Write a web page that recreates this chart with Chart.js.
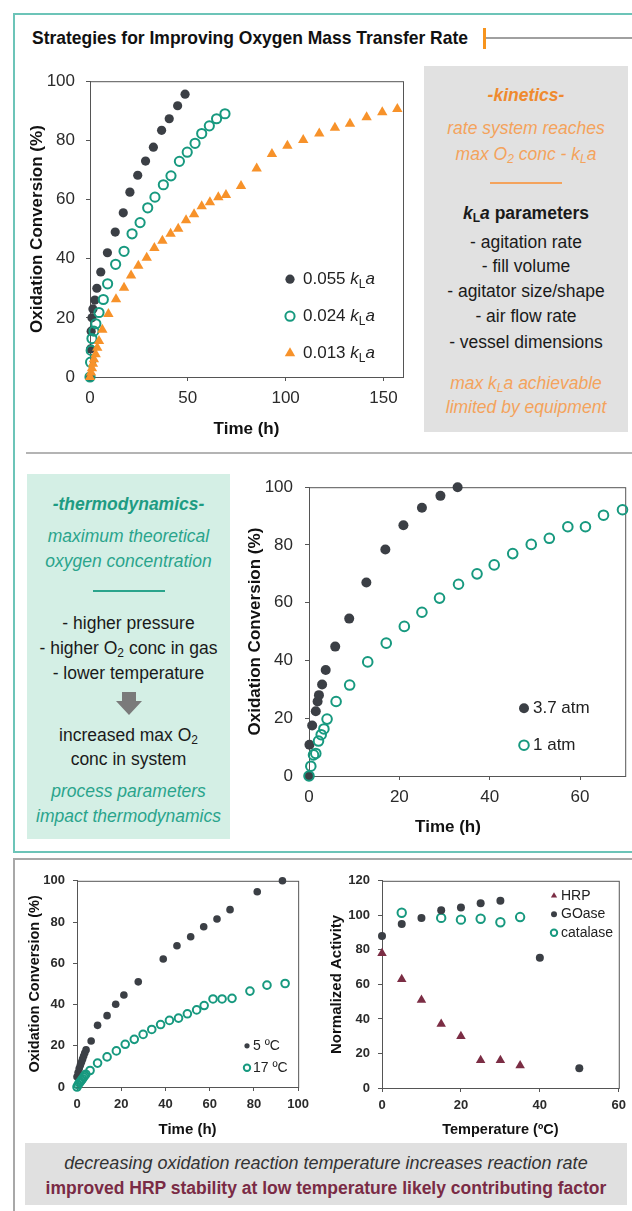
<!DOCTYPE html>
<html>
<head>
<meta charset="utf-8">
<script src="https://cdn.jsdelivr.net/npm/chart.js@4.4.1/dist/chart.umd.min.js"></script>
<style>
  body { margin: 0; width: 632px; height: 1211px; position: relative; overflow: hidden; background: #fff;
         font-family: 'Liberation Sans', Arial, sans-serif; }
  .abs { position: absolute; }
  .ln { position: absolute; left: 0; right: 0; text-align: center; height: 24px; line-height: 24px;
        font-size: 17.5px; white-space: nowrap; color: #1a1a1a; }
  .ln sub { font-size: 12px; vertical-align: -3px; line-height: 0; }
  .chartBox { position: absolute; }
</style>
</head>
<body>

<!-- frames -->
<div class="abs" style="left:13px;top:13px;width:640px;height:836px;border:2px solid #6cc4b8;border-right:none;"></div>
<div class="abs" style="left:13px;top:858px;width:640px;height:400px;border-top:2px solid #a8a8a8;border-left:2px solid #a8a8a8;"></div>

<div class="abs" style="left:32px;top:26px;height:24px;line-height:24px;white-space:nowrap;">
  <span id="mainTitle" style="display:inline-block;font-family:'Liberation Sans Narrow','Liberation Sans',sans-serif;font-weight:bold;font-size:19px;color:#111;transform-origin:left center;">Strategies for Improving Oxygen Mass Transfer Rate</span>
</div>
<div class="abs" style="left:483px;top:28px;width:3px;height:21px;background:#f7941d;"></div>
<div class="abs" style="left:486px;top:37px;width:150px;height:2px;background:#a0a0a0;"></div>
<div class="abs" style="left:26px;top:452px;width:610px;height:2px;background:#b4b4b4;"></div>

<!-- kinetics panel -->
<div class="abs" style="left:424px;top:66px;width:204px;height:366px;background:#e1e1e1;">
  <div class="ln" style="top:17px;font-weight:bold;font-style:italic;color:#ef8a2f;">-kinetics-</div>
  <div class="ln" style="top:50px;font-style:italic;color:#f4a35c;">rate system reaches</div>
  <div class="ln" style="top:76px;font-style:italic;color:#f4a35c;">max O<sub>2</sub> conc - k<sub>L</sub>a</div>
  <div class="abs" style="left:66px;top:116px;width:72px;height:1.5px;background:#f4a35c;"></div>
  <div class="ln" style="top:135px;font-weight:bold;"><i>k</i><sub>L</sub><i>a</i> parameters</div>
  <div class="ln" style="top:164px;">- agitation rate</div>
  <div class="ln" style="top:188px;">- fill volume</div>
  <div class="ln" style="top:213px;">- agitator size/shape</div>
  <div class="ln" style="top:238px;">- air flow rate</div>
  <div class="ln" style="top:264px;">- vessel dimensions</div>
  <div class="ln" style="top:305px;font-style:italic;color:#f4a35c;">max k<sub>L</sub>a achievable</div>
  <div class="ln" style="top:329px;font-style:italic;color:#f4a35c;">limited by equipment</div>
</div>

<!-- thermodynamics panel -->
<div class="abs" style="left:27px;top:474px;width:203px;height:365px;background:#d4efe5;">
  <div class="ln" style="top:18px;font-weight:bold;font-style:italic;color:#1e9c83;">-thermodynamics-</div>
  <div class="ln" style="top:50px;font-style:italic;color:#2aa48c;">maximum theoretical</div>
  <div class="ln" style="top:75px;font-style:italic;color:#2aa48c;">oxygen concentration</div>
  <div class="abs" style="left:66px;top:116px;width:72px;height:1.5px;background:#2aa48c;"></div>
  <div class="ln" style="top:137px;">- higher pressure</div>
  <div class="ln" style="top:162px;">- higher O<sub>2</sub> conc in gas</div>
  <div class="ln" style="top:187px;">- lower temperature</div>
  <svg class="abs" style="left:87px;top:218px;" width="30" height="24">
    <polygon points="8,0 22,0 22,9 28,9 15,23 2,9 8,9" fill="#7a7a7a"/>
  </svg>
  <div class="ln" style="top:249px;">increased max O<sub>2</sub></div>
  <div class="ln" style="top:273px;">conc in system</div>
  <div class="ln" style="top:305px;font-style:italic;color:#2aa48c;">process parameters</div>
  <div class="ln" style="top:330px;font-style:italic;color:#2aa48c;">impact thermodynamics</div>
</div>

<!-- bottom note -->
<div class="abs" style="left:25px;top:1143px;width:602px;height:62px;background:#e0e0e0;">
  <div class="ln" style="top:8px;font-size:18px;font-style:italic;color:#333;">decreasing oxidation reaction temperature increases reaction rate</div>
  <div class="ln" style="top:33px;font-size:17.5px;font-weight:bold;color:#7a2b45;">improved HRP stability at low temperature likely contributing factor</div>
</div>

<div class="chartBox" style="left:20px;top:60px;width:395px;height:385px;"><canvas id="kinChart"></canvas></div>
<div class="chartBox" style="left:245px;top:465px;width:387px;height:375px;"><canvas id="pressChart"></canvas></div>
<div class="abs" style="left:398px;top:815px;width:100px;text-align:center;font-weight:bold;font-size:17px;color:#111;line-height:24px;">Time (h)</div>
<div class="chartBox" style="left:20px;top:865px;width:295px;height:275px;"><canvas id="tempChart"></canvas></div>
<div class="chartBox" style="left:325px;top:865px;width:307px;height:275px;"><canvas id="stabChart"></canvas></div>

<script>
// ---- data: kLa comparison (top chart) ----
const kinLabels = ['0.055', '0.024', '0.013'];
const kinTimeFast = [0, 0.3, 0.6, 1, 1.5, 2.5, 3.5, 5.5, 8.9, 12.9, 17, 20.4, 24.4, 28.4, 32.4, 36.6, 40.5, 44.8, 48.6];
const kinConvFast = [0, 9.5, 15.5, 20, 23, 26, 30, 35.5, 42, 49, 55.5, 62.5, 68.2, 73, 77.7, 83.4, 87.3, 91.7, 95.6];
const kinTimeMid = [0, 0.3, 0.6, 1, 2, 3, 4.6, 6.8, 9, 13.1, 17.4, 21.5, 25.6, 29.5, 33.2, 37.5, 41.4, 45.7, 49.7, 53.7, 57.1, 61, 64.7, 69];
const kinConvMid = [0, 5, 9, 13, 15.5, 18, 21.8, 26.2, 31.5, 38.1, 42.5, 48.4, 52.2, 57.2, 60.8, 65, 68, 72.9, 76, 79, 82.3, 84.9, 87.3, 89];
const kinTimeSlow = [0, 0.5, 1, 1.5, 2, 2.9, 3.7, 4.6, 6.3, 9.4, 13.3, 17.4, 21, 24.7, 29, 32.9, 37, 41.2, 45.1, 49.1, 53.2, 57.1, 61.3, 65.6, 69.5, 77.2, 85.2, 93, 100.9, 109, 117.2, 125.2, 132.9, 141.4, 149.4, 157.1];
const kinConvSlow = [0, 1.5, 3, 4.5, 6, 7.7, 9.9, 12.2, 16, 21.3, 26.3, 30.2, 34.3, 37.6, 40.3, 43.6, 46.1, 48.4, 50.1, 53, 55, 57.7, 59.1, 60.8, 61.5, 64.6, 70.5, 75.4, 78.2, 80.1, 82.3, 84.3, 85.6, 87.8, 89.5, 90.6];
const kinXTicks = [0, 50, 100, 150];

// ---- data: pressure comparison (middle chart) ----
const pressLabels = ['3.7 atm', '1 atm'];
const pressTimeHigh = [0, 0.1, 0.7, 1.5, 1.9, 2.2, 2.9, 3.7, 5.8, 8.9, 12.7, 16.9, 20.9, 25, 29.1, 32.9];
const pressConvHigh = [0, 10.8, 17.5, 22.4, 25.8, 28, 31.7, 36.7, 44.8, 54.5, 67, 78.4, 86.8, 92.9, 97, 100];
const pressTimeLow = [0, 0.4, 1, 1.5, 2.1, 2.7, 3.3, 4, 6, 9, 13, 17.1, 21.1, 25, 28.9, 33.1, 37.2, 41, 45.1, 49.2, 53.2, 57.3, 61.2, 65.2, 69.4];
const pressConvLow = [0, 3.4, 7.3, 7.8, 12.1, 14.3, 16.3, 19.7, 25.8, 31.5, 39.5, 46, 51.8, 56.7, 61.6, 66.4, 70, 73.1, 77, 80.2, 82.3, 86.3, 86.3, 90.3, 92.2];
const pressXTicks = [0, 20, 40, 60];

// ---- data: reaction temperature (bottom left) ----
const tempLabels = ['5 ºC', '17 ºC'];
const tempTimeCold = [0, 0.5, 1, 1.5, 2, 2.5, 3, 3.5, 4.1, 6.4, 9.3, 13.6, 17.5, 21.2, 27.7, 39, 45.2, 51.4, 57.3, 63.3, 69.2, 81.5, 92.9];
const tempConvCold = [5, 7, 9, 10.5, 12, 13.5, 15, 16.5, 18, 22.3, 29.9, 34.6, 40.1, 44.6, 51, 62.1, 68.5, 72.9, 77.7, 81.5, 86, 94.7, 100];
const tempTimeWarm = [0, 0.5, 1, 1.5, 2, 2.5, 3, 3.5, 4, 5.9, 9.3, 13.6, 17.8, 21.8, 25.9, 29.9, 33.8, 37.8, 41.8, 45.9, 49.9, 54.1, 57.5, 61.5, 65.6, 70.1, 78.2, 85.9, 94.1];
const tempConvWarm = [0, 1, 2, 2.5, 3.3, 4, 4.8, 5.5, 6.2, 8, 11.6, 14.6, 17.5, 20.7, 23.1, 25.5, 27.9, 30.3, 32.3, 33.4, 35.5, 37.4, 39.5, 42.7, 42.7, 43, 46.5, 49.4, 50.2];
const timeXTicks = [0, 20, 40, 60, 80, 100];

// ---- data: enzyme stability (bottom right) ----
const stabLabels = ['HRP', 'GOase', 'catalase'];
const hrpTemp = [0, 5, 10, 15, 20, 25, 30, 35];
const hrpAct = [78, 63, 51, 37, 30, 16, 16, 13];
const goaseTemp = [0, 5, 10, 15, 20, 25, 30, 40, 50];
const goaseAct = [88, 95, 98.5, 103, 104.5, 107, 108.5, 75.5, 11.5];
const catTemp = [5, 15, 20, 25, 30, 35];
const catAct = [101.5, 98.5, 97.5, 98, 96, 99];
const stabXTicks = [0, 20, 40, 60];
const stabYTicks = [0, 20, 40, 60, 80, 100, 120];
const convYTicks = [0, 20, 40, 60, 80, 100];

const DARK = '#3b3f45', TEAL = '#17997f', ORANGE = '#f7922a', MAROON = '#7b2d44';
Chart.defaults.font.family = "'Liberation Sans', Arial, sans-serif";
Chart.defaults.color = '#2b2b2b';

const pts = (xs, ys) => xs.map((x, i) => ({ x: x, y: ys[i] }));

const framePlugin = {
  id: 'frame',
  beforeDatasetsDraw(chart) {
    const { ctx, chartArea: a } = chart;
    ctx.save();
    ctx.strokeStyle = '#555';
    ctx.lineWidth = 1;
    ctx.strokeRect(a.left + 0.5, a.top + 0.5, a.right - a.left, a.bottom - a.top);
    ctx.restore();
  }
};

const inlineLegend = {
  id: 'inlineLegend',
  afterDatasetsDraw(chart, args, o) {
    const { ctx, chartArea: a } = chart;
    ctx.save();
    chart.data.datasets.forEach((ds, i) => {
      const x = a.left + o.x, y = a.top + o.y + i * o.step;
      ctx.fillStyle = ds.backgroundColor;
      ctx.strokeStyle = ds.borderColor;
      ctx.lineWidth = ds.borderWidth;
      Chart.helpers.drawPoint(ctx, { pointStyle: ds.pointStyle, radius: o.radius[i], borderWidth: ds.borderWidth, rotation: 0 }, x, y);
      ctx.fillStyle = o.color;
      ctx.textBaseline = 'middle';
      ctx.textAlign = 'left';
      ctx.font = o.size + "px 'Liberation Sans'";
      let tx = x + o.textDx;
      ctx.fillText(ds.label, tx, y);
      if (o.kla) {
        tx += ctx.measureText(ds.label + ' ').width;
        ctx.font = 'italic ' + o.size + "px 'Liberation Sans'";
        ctx.fillText('k', tx, y);
        tx += ctx.measureText('k').width;
        ctx.font = Math.round(o.size * 0.68) + "px 'Liberation Sans'";
        ctx.fillText('L', tx, y + 5);
        tx += ctx.measureText('L').width;
        ctx.font = 'italic ' + o.size + "px 'Liberation Sans'";
        ctx.fillText('a', tx, y);
      }
    });
    ctx.restore();
  }
};

function axis(c) {
  const horizontal = c.pos === 'x';
  const s = {
    type: 'linear', min: c.min, max: c.max,
    afterBuildTicks: sc => { sc.ticks = c.ticks.map(v => ({ value: v })); },
    afterFit: sc => { if (horizontal) sc.height = c.size; else sc.width = c.size; },
    border: { color: '#555', width: 1 },
    grid: { drawOnChartArea: false, tickLength: 4, color: '#555' },
    ticks: { font: { size: c.tickSize, weight: c.tickWeight || 'normal' }, color: '#2b2b2b', padding: c.tickPad },
    title: { display: !!c.title, text: c.title || '', color: '#111',
             font: { size: c.titleSize, weight: 'bold' },
             padding: horizontal ? { top: 0, bottom: c.titlePad } : { top: c.titlePad, bottom: 0 } }
  };
  return s;
}

function makeChart(id, datasets, x, y, pad, legend) {
  new Chart(document.getElementById(id), {
    type: 'scatter',
    data: { datasets: datasets },
    options: {
      responsive: true, maintainAspectRatio: false, animation: false,
      layout: { padding: { top: pad.top, right: pad.right, left: 0, bottom: 0 } },
      scales: { x: axis(Object.assign({ pos: 'x' }, x)), y: axis(Object.assign({ pos: 'y' }, y)) },
      plugins: { legend: { display: false }, tooltip: { enabled: false }, inlineLegend: legend }
    },
    plugins: [framePlugin, inlineLegend]
  });
}

function dot(label, data, color, r, order) {
  return { label, data, pointStyle: 'circle', pointRadius: r, backgroundColor: color, borderColor: color, borderWidth: 0, clip: false, order };
}
function ring(label, data, color, r, w, order) {
  return { label, data, pointStyle: 'circle', pointRadius: r, backgroundColor: 'rgba(255,255,255,0)', borderColor: color, borderWidth: w, clip: false, order };
}
function tri(label, data, color, r, order) {
  return { label, data, pointStyle: 'triangle', pointRadius: r, backgroundColor: color, borderColor: color, borderWidth: 0, clip: false, order };
}

// top: kLa
makeChart('kinChart', [
  dot(kinLabels[0], pts(kinTimeFast, kinConvFast), DARK, 4.6, 2),
  ring(kinLabels[1], pts(kinTimeMid, kinConvMid), TEAL, 4.6, 2, 1),
  tri(kinLabels[2], pts(kinTimeSlow, kinConvSlow), ORANGE, 6, 0)
],
  { min: 0, max: 160, ticks: kinXTicks, size: 68, tickSize: 17, tickPad: 7, title: 'Time (h)', titleSize: 17, titlePad: 5 },
  { min: 0, max: 100, ticks: convYTicks, size: 70, tickSize: 17, tickPad: 11, title: 'Oxidation Conversion (%)', titleSize: 17, titlePad: 7 },
  { top: 15, right: 12 },
  { x: 200, y: 198, step: 37, textDx: 13, size: 17, color: '#222', radius: [4.6, 4.6, 6], kla: true });

// middle: pressure
makeChart('pressChart', [
  dot(pressLabels[0], pts(pressTimeHigh, pressConvHigh), DARK, 5, 1),
  ring(pressLabels[1], pts(pressTimeLow, pressConvLow), TEAL, 4.8, 2, 0)
],
  { min: 0, max: 70, ticks: pressXTicks, size: 64, tickSize: 17, tickPad: 7, title: '', titleSize: 17, titlePad: 0 },
  { min: 0, max: 100, ticks: convYTicks, size: 64, tickSize: 17, tickPad: 12, title: 'Oxidation Conversion (%)', titleSize: 17, titlePad: 0 },
  { top: 13, right: 5 },
  { x: 215, y: 221, step: 37, textDx: 9, size: 17, color: '#222', radius: [5, 4.8] });

// bottom left: temperature
makeChart('tempChart', [
  dot(tempLabels[0], pts(tempTimeCold, tempConvCold), DARK, 3.8, 1),
  ring(tempLabels[1], pts(tempTimeWarm, tempConvWarm), TEAL, 3.8, 2, 0)
],
  { min: 0, max: 100, ticks: timeXTicks, size: 53, tickSize: 13, tickWeight: 'bold', tickPad: 6, title: 'Time (h)', titleSize: 15, titlePad: 1 },
  { min: 0, max: 100, ticks: convYTicks, size: 57, tickSize: 13, tickWeight: 'bold', tickPad: 8, title: 'Oxidation Conversion (%)', titleSize: 14.5, titlePad: 6 },
  { top: 12, right: 13 },
  { x: 170, y: 165, step: 22, textDx: 6, size: 14, color: '#222', radius: [2.6, 3.2] });

// bottom right: enzyme stability
makeChart('stabChart', [
  tri(stabLabels[0], pts(hrpTemp, hrpAct), MAROON, 5.5, 0),
  dot(stabLabels[1], pts(goaseTemp, goaseAct), DARK, 4, 1),
  ring(stabLabels[2], pts(catTemp, catAct), TEAL, 4.2, 2, 2)
],
  { min: 0, max: 60, ticks: stabXTicks, size: 52, tickSize: 13, tickWeight: 'bold', tickPad: 6, title: 'Temperature (ºC)', titleSize: 14.5, titlePad: 1 },
  { min: 0, max: 120, ticks: stabYTicks, size: 57, tickSize: 13, tickWeight: 'bold', tickPad: 8, title: 'Normalized Activity', titleSize: 15, titlePad: 3 },
  { top: 12, right: 13 },
  { x: 172, y: 15, step: 18.5, textDx: 7, size: 14, color: '#222', radius: [3.6, 3, 3.2] });

// squeeze the heading to the width it has in the original
const titleEl = document.getElementById('mainTitle');
titleEl.style.transform = 'scaleX(' + (436 / titleEl.getBoundingClientRect().width) + ')';
</script>
</body>
</html>
